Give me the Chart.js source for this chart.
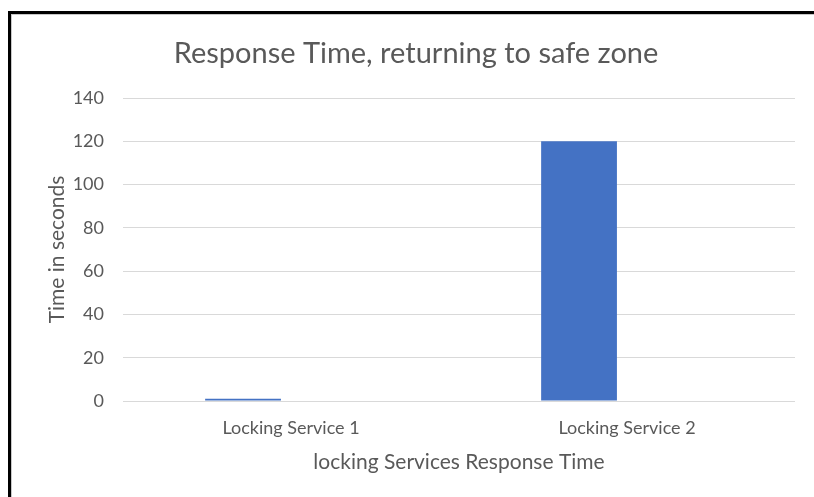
<!DOCTYPE html>
<html>
<head>
<meta charset="utf-8">
<script src="https://cdn.jsdelivr.net/npm/chart.js@4"></script>
<style>
    html, body { margin: 0; padding: 0; background: #fff; overflow: hidden; }
    #chart { display: block; }
</style>
</head>
<body>
<canvas id="chart" width="814" height="497"></canvas>
<script>
// Chart data
const categories = ['Locking Service 1', 'Locking Service 2'];
const responseTimes = [1, 120];
const secondSeries = [null, null];   // empty second series in the original sheet
const yTicks = [0, 20, 40, 60, 80, 100, 120, 140];

const textColor = '#595959';
const gridColor = '#d9d9d9';
const fontFamily = 'Lato, "Open Sans", sans-serif';

// black frame along the top and left edge of the picture
const framePlugin = {
    id: 'frame',
    beforeDraw(chart) {
        const c = chart.ctx;
        c.save();
        c.fillStyle = '#fff';
        c.fillRect(0, 0, chart.width, chart.height);
        c.fillStyle = '#c8c8c8';
        c.fillRect(11, 14, chart.width - 11, 1);
        c.fillRect(11, 14, 1, chart.height - 14);
        c.fillStyle = '#000';
        c.fillRect(8, 11, 3, chart.height - 11);
        c.fillRect(8, 11, chart.width - 8, 3);
        c.restore();
    }
};

const ctx = document.getElementById('chart').getContext('2d');
new Chart(ctx, {
    type: 'bar',
    data: {
        labels: categories,
        datasets: [
            {
                label: 'Response Time',
                data: responseTimes,
                backgroundColor: '#4472c4',
                categoryPercentage: 0.571,
                barPercentage: 0.79,
            },
            {
                label: 'Series 2',
                data: secondSeries,
                backgroundColor: '#ed7d31',
                categoryPercentage: 0.571,
                barPercentage: 0.79,
            },
        ],
    },
    options: {
        responsive: false,
        animation: false,
        layout: {
            padding: { left: 37, right: 19, top: 0, bottom: 0 }
        },
        plugins: {
            legend: { display: false },
            tooltip: { enabled: false },
            title: {
                display: true,
                text: 'Response Time, returning to safe zone',
                color: textColor,
                font: { family: fontFamily, size: 29, weight: 'normal' },
                padding: { top: 36.6, bottom: 26.6 },
            },
        },
        scales: {
            x: {
                grid: { display: false, drawTicks: false },
                border: { display: false },
                ticks: {
                    color: textColor,
                    font: { family: fontFamily, size: 18 },
                    padding: 16,
                },
                title: {
                    display: true,
                    text: 'locking Services Response Time',
                    color: textColor,
                    font: { family: fontFamily, size: 21 },
                    padding: { top: 0, bottom: 22.4 },
                },
                afterFit: function (scale) { scale.height = 96; },
            },
            y: {
                min: 0,
                max: 140,
                afterBuildTicks: function (scale) {
                    scale.ticks = yTicks.map(v => ({ value: v }));
                },
                grid: { color: gridColor, drawTicks: false, lineWidth: 1 },
                border: { display: false },
                ticks: {
                    color: textColor,
                    font: { family: fontFamily, size: 18 },
                    padding: 19,
                },
                title: {
                    display: true,
                    text: 'Time in seconds',
                    color: textColor,
                    font: { family: fontFamily, size: 21 },
                    padding: { top: 7.4, bottom: 0 },
                },
                afterFit: function (scale) { scale.width = 86; },
            },
        },
    },
    plugins: [framePlugin],
});
</script>
</body>
</html>
